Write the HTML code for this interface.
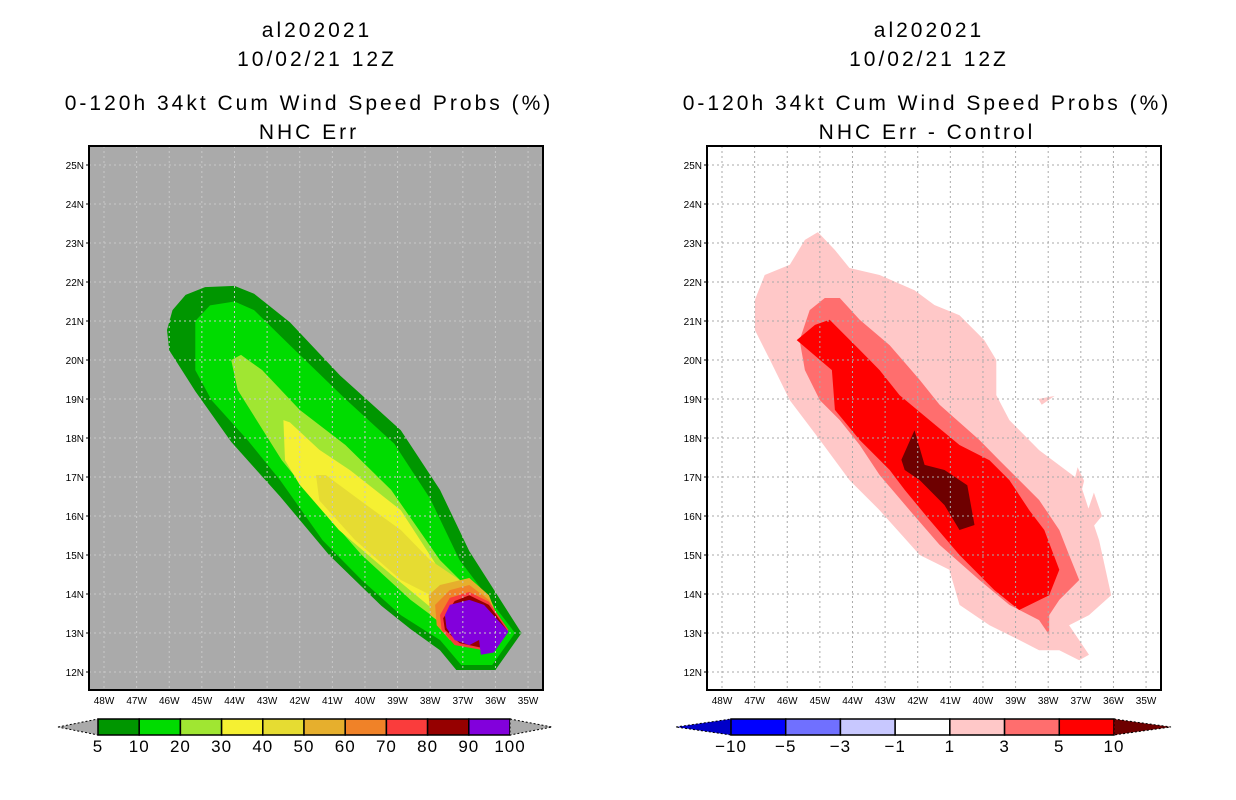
<!DOCTYPE html>
<html><head><meta charset="utf-8">
<style>
body{margin:0;background:#fff;}
svg{display:block;font-family:"Liberation Sans",sans-serif;}
.t{font-size:21px;text-anchor:middle;fill:#000;letter-spacing:3px;}
.tk{font-size:10px;fill:#000;}
.cb{font-size:17px;text-anchor:middle;fill:#000;letter-spacing:1px;}
</style></head><body>
<svg id="chart" width="1236" height="800">
<text class="t" x="317" y="37">al202021</text>
<text class="t" x="317" y="66">10/02/21 12Z</text>
<text class="t" x="309" y="110">0-120h 34kt Cum Wind Speed Probs (%)</text>
<text class="t" x="309" y="139">NHC Err</text>
<text class="t" x="929" y="37">al202021</text>
<text class="t" x="929" y="66">10/02/21 12Z</text>
<text class="t" x="927" y="110">0-120h 34kt Cum Wind Speed Probs (%)</text>
<text class="t" x="927" y="139">NHC Err - Control</text>
<g id="left"></g>
<g id="right"></g>
</svg>
<script>
const lonTicks=[48,47,46,45,44,43,42,41,40,39,38,37,36,35];
const latTicks=[12,13,14,15,16,17,18,19,20,21,22,23,24,25];
const leftLevels=['5','10','20','30','40','50','60','70','80','90'];
const leftColors=['#009600','#00dc00','#a0e632','#f5f032','#e6dc32','#e6af2d','#f08228','#fa3c3c','#960000','#8200dc'];
const leftLabels=['5','10','20','30','40','50','60','70','80','90','100'];
const leftPolys=[
[[46.07,20.77],[45.9,21.28],[45.5,21.67],[44.9,21.87],[44.0,21.9],[43.4,21.7],[42.3,20.97],[40.76,19.6],[38.9,18.2],[37.7,16.67],[36.8,15.1],[35.2,13.0],[36.0,12.05],[37.2,12.05],[37.7,12.56],[38.6,13.1],[39.5,13.7],[41.1,15.0],[42.6,16.5],[44.1,17.9],[45.2,19.2],[46.0,20.25]],
[[45.2,21.0],[44.75,21.4],[44.0,21.5],[43.4,21.28],[42.3,20.38],[40.6,19.0],[39.1,17.85],[38.0,16.44],[37.1,14.87],[35.4,13.0],[36.1,12.18],[37.05,12.18],[37.7,12.82],[38.9,13.46],[40.1,14.36],[41.3,15.38],[42.6,16.92],[43.6,17.95],[44.7,18.97],[45.2,19.74]],
[[44.1,20.0],[43.8,20.13],[43.15,19.74],[42.0,18.72],[40.6,17.82],[39.2,16.67],[37.7,14.87],[35.85,13.33],[36.45,12.56],[37.4,13.1],[38.6,13.85],[40.1,15.0],[41.3,16.15],[42.55,17.43],[43.9,19.23]],
[[42.5,18.46],[42.3,18.4],[41.4,17.7],[40.45,17.17],[38.9,16.15],[37.7,14.6],[36.45,14.08],[36.0,13.2],[36.8,12.8],[37.7,13.46],[39.2,14.5],[40.8,15.64],[42.0,16.8],[42.45,17.43]],
[[41.5,17.05],[41.2,17.05],[40.15,16.4],[38.9,15.64],[38.0,14.87],[37.1,14.36],[37.7,13.85],[38.9,14.36],[40.3,15.38],[41.4,16.4]],
[[38.05,13.97],[37.7,14.23],[36.8,14.41],[36.2,13.97],[35.9,13.33],[36.5,12.82],[37.4,13.08],[38.0,13.46]],
[[37.85,13.72],[37.4,14.1],[36.8,14.23],[36.2,13.85],[35.75,13.2],[36.5,12.69],[37.4,12.82],[37.8,13.2]],
[[37.7,13.46],[37.4,13.9],[36.8,14.05],[36.2,13.8],[35.6,13.08],[36.35,12.56],[37.25,12.69],[37.65,13.08]],
[[37.6,13.38],[37.25,13.82],[36.8,13.97],[36.2,13.72],[35.65,13.08],[36.3,12.6],[37.1,12.74],[37.55,13.08]],
[[37.55,13.46],[37.4,13.72],[36.8,13.85],[36.35,13.72],[35.6,13.03],[36.05,12.5],[36.45,12.44],[36.5,12.82],[36.8,12.69],[37.25,12.82],[37.5,13.13]]
];
const rightColors=['#ffc8c8','#ff6e6e','#ff0000','#6e0000'];
const rightLevels=['1','3','5','10'];
const rightPolys=[
[[46.99,21.54],[46.69,22.18],[45.92,22.44],[45.46,23.08],[45.06,23.28],[44.54,22.82],[44.09,22.36],[43.17,22.18],[42.1,21.79],[41.49,21.41],[40.72,21.15],[39.96,20.51],[39.59,20.0],[39.59,19.1],[39.19,18.46],[38.28,17.69],[37.05,16.92],[36.75,16.15],[36.44,15.38],[36.07,13.97],[36.75,13.46],[37.36,13.2],[36.75,12.44],[37.05,12.3],[37.66,12.56],[38.28,12.56],[38.89,12.82],[39.8,13.2],[40.72,13.72],[41.03,14.62],[41.94,15.0],[43.17,16.15],[44.09,16.92],[45.0,17.95],[45.92,18.97],[46.53,20.0],[46.99,20.77]],
[[45.62,20.51],[45.31,21.28],[44.85,21.59],[44.39,21.59],[43.78,21.03],[42.86,20.38],[41.94,19.49],[41.33,18.85],[40.11,17.95],[39.5,17.43],[38.28,16.41],[37.66,15.64],[37.36,15.0],[37.05,14.36],[37.66,13.85],[37.97,13.46],[37.97,12.95],[38.28,13.33],[39.19,13.72],[40.11,14.36],[41.33,15.26],[42.25,16.15],[43.17,17.05],[43.78,17.82],[44.39,18.46],[45.0,18.97],[45.46,19.74]],
[[45.71,20.51],[45.15,20.9],[44.7,21.03],[43.78,20.26],[43.17,19.74],[42.56,19.1],[41.64,18.46],[40.72,17.82],[39.8,17.43],[39.19,16.92],[38.58,16.15],[38.12,15.64],[37.66,14.62],[37.97,13.97],[38.89,13.59],[39.65,14.1],[40.72,15.0],[41.64,15.9],[42.4,16.67],[42.86,17.18],[43.78,17.95],[44.54,18.72],[44.63,19.74]],
[[42.5,17.44],[42.1,18.2],[41.79,17.31],[41.18,17.18],[40.48,16.79],[40.26,15.77],[40.72,15.64],[41.18,16.28],[41.94,16.92],[42.4,17.18]]
];
const rightIslands=[
[[38.3,19.0],[37.8,19.08],[38.2,18.85]],
[[37.1,17.25],[36.9,16.9],[37.05,16.4],[37.2,16.9]],
[[36.6,16.6],[36.35,16.0],[36.6,15.75],[36.8,16.1]]
];
const rightCbColors=['#0000c8','#0000ff','#7070ff','#c8c8ff','#ffffff','#ffc8c8','#ff6e6e','#ff0000','#6e0000'];
const rightLabels=['-10','-5','-3','-1','1','3','5','10'];

const NS='http://www.w3.org/2000/svg';
function mk(tag,attrs,parent){const e=document.createElementNS(NS,tag);for(const k in attrs)e.setAttribute(k,attrs[k]);parent.appendChild(e);return e;}
const PY0=146,PY1=690;
function yS(lat){return 672-(lat-12)*39;}
function panel(g,x0,x1,xLon48,bg,gridCol,polys,colors,names,islands){
  const xS=lon=>xLon48+(48-lon)*32.62;
  const bgR=mk('rect',{x:x0,y:PY0,width:x1-x0,height:PY1-PY0,fill:bg},g);
  
  
  polys.forEach((p,i)=>{
    const el=mk('polygon',{points:p.map(q=>xS(q[0]).toFixed(1)+','+yS(q[1]).toFixed(1)).join(' '),fill:colors[i]},g);
    
    
  });
  islands.forEach(p=>{
    const el=mk('polygon',{points:p.map(q=>xS(q[0]).toFixed(1)+','+yS(q[1]).toFixed(1)).join(' '),fill:colors[0]},g);
    
    
  });
  lonTicks.forEach(l=>{
    const x=xS(l);
    mk('line',{x1:x,x2:x,y1:PY0,y2:PY1,stroke:gridCol,'stroke-width':1,'stroke-dasharray':'2,3'},g);
    const t=mk('text',{x:x,y:PY1+14,'text-anchor':'middle',class:'tk'},g);
    t.textContent=l+'W';
    
    
  });
  latTicks.forEach(l=>{
    const y=yS(l);
    mk('line',{x1:x0,x2:x1,y1:y,y2:y,stroke:gridCol,'stroke-width':1,'stroke-dasharray':'2,3'},g);
    const t=mk('text',{x:x0-5,y:y+4,'text-anchor':'end',class:'tk'},g);
    t.textContent=l+'N';
    
    
    mk('line',{x1:x0-3,x2:x0,y1:y,y2:y,stroke:'#000'},g);
  });
  const fr=mk('rect',{x:x0,y:PY0,width:x1-x0,height:PY1-PY0,fill:'none',stroke:'#000','stroke-width':2},g);
  
  
  return xS;
}
function colorbar(g,tl,bx,tr,cols,labels){
  const y0=719,y1=735,ym=727,n=cols.length-2,w=(tr[0]-bx)/n;
  const lt=mk('polygon',{points:`${tl},${ym} ${bx},${y0} ${bx},${y1}`,fill:cols[0],stroke:'#000','stroke-width':1,'stroke-dasharray':'2,2'},g);
  
  
  for(let i=0;i<n;i++){
    const r=mk('rect',{x:bx+i*w,y:y0,width:w,height:y1-y0,fill:cols[i+1],stroke:'#000','stroke-width':1.5},g);
    
    
  }
  const rt=mk('polygon',{points:`${tr[0]},${y0} ${tr[1]},${ym} ${tr[0]},${y1}`,fill:cols[cols.length-1],stroke:'#000','stroke-width':1,'stroke-dasharray':'2,2'},g);
  
  
  labels.forEach((s,i)=>{
    const t=mk('text',{x:bx+i*w,y:752,class:'cb'},g);
    t.textContent=s.replace('-','\u2212');
    
    
  });
}
const L=document.getElementById('left'),R=document.getElementById('right');
panel(L,89,543,104,'#aaaaaa','#c8c8c8',leftPolys,leftColors,leftLevels,[]);
panel(R,707,1161,722,'#ffffff','#aaaaaa',rightPolys,rightColors,rightLevels,rightIslands);
const cbL=mk('g',{},L);


colorbar(cbL,58,98,[510,552],['#aaaaaa'].concat(leftColors,['#aaaaaa']),leftLabels);
const cbR=mk('g',{},R);


colorbar(cbR,676,731,[1114,1171],rightCbColors,rightLabels);
</script>
</body></html>
